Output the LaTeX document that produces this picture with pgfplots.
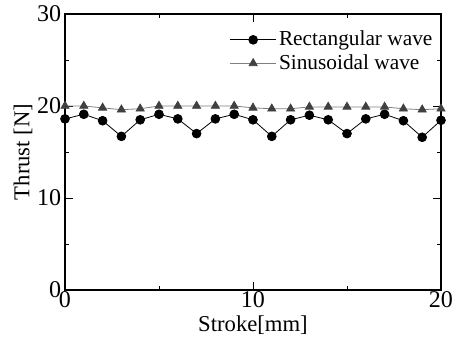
\documentclass[border=0pt]{standalone}
\usepackage{fontspec}
\setmainfont{Liberation Serif}
\usepackage{pgfplots}
\pgfplotsset{compat=1.18}
\begin{document}
\fontsize{17}{19}\selectfont
\begin{tikzpicture}
\useasboundingbox (-48.75pt,-41.25pt) rectangle (292.5pt,217.5pt);
\begin{axis}[
  scale only axis,
  width=282pt, height=207pt,
  xmin=0, xmax=20, ymin=0, ymax=30,
  xtick={0,10,20}, ytick={0,10,20,30},
  minor xtick={5,15}, minor ytick={5,15,25},
  tick align=inside,
  major tick length=6pt, minor tick length=3pt,
  tick style={black, line width=0.6pt},
  axis line style={line width=0.8pt},
  /pgf/number format/assume math mode=true,
  ticklabel style={font=\fontsize{18}{20}\selectfont},
  xticklabel style={yshift=5pt},
  yticklabel style={xshift=3pt},
  xlabel={Stroke[mm]}, ylabel={Thrust [N]},
  label style={font=\fontsize{17}{19}\selectfont},
  xlabel style={yshift=5pt},
  ylabel style={yshift=-8pt},
  legend style={draw=none, fill=none, at={(0.985,0.95)}, anchor=north east, font=\fontsize{16}{16}\selectfont, row sep=0pt, inner sep=0pt},
  legend cell align=left,
  legend image code/.code={\draw[mark repeat=2,mark phase=2] plot coordinates {(0cm,0cm)(0.6cm,0cm)(1.2cm,0cm)};},
]
\addplot[black, line width=0.6pt, mark=*, mark size=3.3pt] coordinates {
(0,18.6)(1,19.1)(2,18.4)(3,16.7)(4,18.5)(5,19.1)(6,18.6)(7,17.0)(8,18.6)(9,19.1)(10,18.5)
(11,16.7)(12,18.5)(13,19.0)(14,18.5)(15,17.0)(16,18.6)(17,19.1)(18,18.4)(19,16.6)(20,18.45)};
\addlegendentry{Rectangular wave}
\addplot[gray, line width=0.6pt, mark=triangle*, mark size=3.5pt, mark options={fill=black!75, draw=black!75}] coordinates {
(0,20.0)(1,20.0)(2,19.8)(3,19.6)(4,19.7)(5,20.0)(6,20.0)(7,20.0)(8,20.0)(9,20.0)(10,19.8)
(11,19.7)(12,19.7)(13,19.9)(14,19.9)(15,19.9)(16,19.9)(17,19.9)(18,19.7)(19,19.6)(20,19.7)};
\addlegendentry{Sinusoidal wave}
\end{axis}
\end{tikzpicture}
\end{document}
